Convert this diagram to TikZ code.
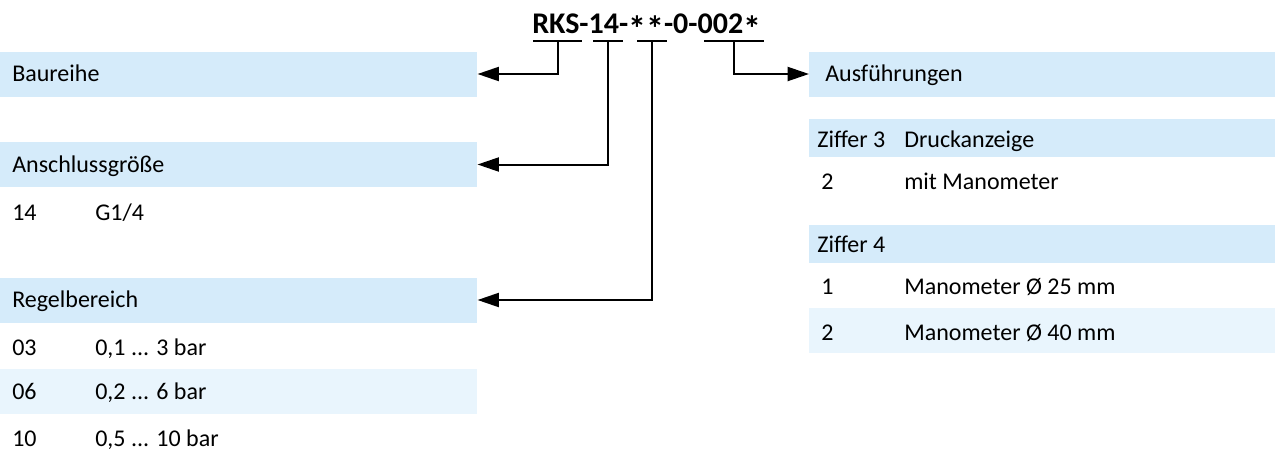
\documentclass[tikz,border=0pt]{standalone}
\usepackage{fontspec}
\usepackage{graphicx}
\setmainfont{Carlito}
\usetikzlibrary{arrows.meta}
\definecolor{hdrblue}{RGB}{213,235,250}
\definecolor{bandblue}{RGB}{233,245,253}
\newcommand{\cast}{\raisebox{-0.27em}{\scalebox{1.2}{*}}}

\begin{document}
\begin{tikzpicture}[x=0.75pt,y=-0.75pt,font=\fontsize{18}{21}\selectfont,
  >={Triangle[length=16pt,width=10.5pt]},
  hdr/.style={fill=hdrblue,anchor=west,minimum height=33.75pt,
    inner ysep=0pt,align=left,text height=11.6pt,text depth=0pt},
  band/.style={fill=bandblue,anchor=west,minimum height=33.75pt,
    inner sep=0pt},
  cell/.style={anchor=base west,inner sep=0pt},
  uline/.style={line width=1.5pt},
  link/.style={line width=1.5pt,->}]
  \useasboundingbox (0,0) rectangle (1275,450);

  % order code
  \node[anchor=base west,inner sep=0pt,font=\fontsize{22.5}{27}\selectfont\bfseries]
    (code) at (532,33) {RKS-14-\cast\cast-0-002\cast};
  \draw[uline] (533,41) -- coordinate (u1) (582,41);
  \draw[uline] (593,41) -- coordinate (u2) (623,41);
  \draw[uline] (637,41) -- coordinate (u3) (667,41);
  \draw[uline] (704,41) -- coordinate (u4) (764,41);

  % left column
  \node[hdr,inner xsep=9pt,text width=339.75pt] (baureihe) at (0,74) {Baureihe};
  \node[hdr,inner xsep=9pt,text width=339.75pt] (anschluss) at (0,164.5)
    {Anschlussgröße};
  \node[cell] at (12,220) {14};
  \node[cell] at (95,220) {G1/4};

  \node[hdr,inner xsep=9pt,text width=339.75pt] (regel) at (0,300)
    {Regelbereich};
  \node[band,minimum width=357.75pt] (band06) at (0,391) {};
  \node[cell] at (12,355) {03};
  \node[cell] at (95,355) {0,1 ... 3 bar};
  \node[cell] at (12,399) {06};
  \node[cell] at (95,399) {0,2 ... 6 bar};
  \node[cell] at (12,446) {10};
  \node[cell] at (95,446) {0,5 ... 10 bar};

  % right column
  \node[hdr,inner xsep=12pt,text width=325.5pt] (ausf) at (809,74)
    {Ausführungen};
  \node[band,fill=hdrblue,minimum width=349.5pt,minimum height=28.5pt]
    (ziffer3) at (809,138) {};
  \node[cell] at (817,147) {Ziffer 3};
  \node[cell] at (904,147) {Druckanzeige};
  \node[cell] at (821,189) {2};
  \node[cell] at (904,189) {mit Manometer};

  \node[band,fill=hdrblue,minimum width=349.5pt,minimum height=28.5pt]
    (ziffer4) at (809,244) {};
  \node[cell] at (817,252.5) {Ziffer 4};
  \node[cell] at (821,294) {1};
  \node[cell] at (904,294) {Manometer Ø 25 mm};
  \node[band,minimum width=349.5pt] (band2) at (809,330.5) {};
  \node[cell] at (821,340) {2};
  \node[cell] at (904,340) {Manometer Ø 40 mm};

  % connectors
  \draw[link] (u1) |- (baureihe.east);
  \draw[link] (u2) |- (anschluss.east);
  \draw[link] (u3) |- (regel.east);
  \draw[link] (u4) |- (ausf.west);
\end{tikzpicture}
\end{document}
